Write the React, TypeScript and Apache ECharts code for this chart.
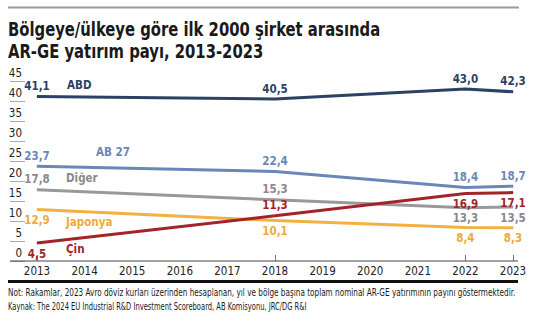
import React, { useEffect, useRef } from "react";
import * as echarts from "echarts";

const years = ["2013", "2014", "2015", "2016", "2017", "2018", "2019", "2020", "2021", "2022", "2023"];
const abd = [41.1, null, null, null, null, 40.5, null, null, null, 43.0, 42.3];
const ab27 = [23.7, null, null, null, null, 22.4, null, null, null, 18.4, 18.7];
const diger = [17.8, null, null, null, null, 15.3, null, null, null, 13.3, 13.5];
const japonya = [12.9, null, null, null, null, 10.1, null, null, null, 8.4, 8.3];
const cin = [4.5, null, null, null, null, 11.3, null, null, null, 16.9, 17.1];
const seriesNames = ["ABD", "AB 27", "Diğer", "Japonya", "Çin"];
const tickYears = ["2013", "2018", "2022", "2023"];
const yTicks = [0, 5, 10, 15, 20, 25, 30, 35, 40, 45];

const titleLines = ["Bölgeye/ülkeye göre ilk 2000 şirket arasında", "AR-GE yatırım payı, 2013-2023"];
const note = "Not: Rakamlar, 2023 Avro döviz kurları üzerinden hesaplanan, yıl ve bölge başına toplam nominal AR-GE yatırımının payını göstermektedir.";
const source = "Kaynak: The 2024 EU Industrial R&D Investment Scoreboard, AB Komisyonu, JRC/DG R&I";

const FONT = "'Liberation Sans Narrow', 'DejaVu Sans Condensed', 'Arial Narrow', sans-serif";

// styling
const colors = ["#2c4265", "#6b87b7", "#999999", "#f4b043", "#a32329"];
const labelColors = ["#2c4265", "#6b87b7", "#8a8a8a", "#f0a93a", "#a32329"];
const labelPlacement: string[][] = [
  ["top", "top", "top", "top"],
  ["top", "top", "top", "top"],
  ["top", "top", "bottom", "bottom"],
  ["bottom", "bottom", "bottom", "bottom"],
  ["bottom", "top", "bottom", "bottom"],
];
const namePos: [number, number][] = [
  [67, 85],
  [96, 152],
  [66, 178],
  [66, 222],
  [66, 249],
];

const fmt = (v: number) => v.toFixed(1).replace(".", ",");

export default function App() {
  const ref = useRef<HTMLDivElement>(null);
  useEffect(() => {
    if (!ref.current) return;
    const chart = echarts.init(ref.current, null, { renderer: "svg" });
    const all = [abd, ab27, diger, japonya, cin];
    const series = all.map((arr, si) => {
      let k = 0;
      const data = arr.map((v) => {
        if (v === null) return null;
        const pos = labelPlacement[si][k++];
        return { value: v, label: { position: pos } };
      });
      return {
        name: seriesNames[si],
        type: "line",
        data,
        connectNulls: true,
        symbol: "circle",
        symbolSize: 1,
        showSymbol: true,
        itemStyle: { color: colors[si] },
        lineStyle: { color: colors[si], width: 3 },
        label: {
          show: true,
          distance: 4,
          fontFamily: FONT,
          fontWeight: "bold",
          fontSize: 11.5,
          color: labelColors[si],
          formatter: (p: any) => fmt(p.value),
        },
        z: 2 + si,
      };
    });

    chart.setOption({
      animation: false,
      backgroundColor: "#ffffff",
      grid: { left: 37, right: 28, top: 81, bottom: 61 },
      xAxis: {
        type: "category",
        data: years,
        boundaryGap: false,
        axisLine: { show: false },
        axisTick: {
          show: true,
          inside: true,
          length: 6,
          interval: (_i: number, v: string) => tickYears.includes(v),
          lineStyle: { color: "#777", width: 1 },
        },
        axisLabel: {
          margin: 4,
          fontFamily: FONT,
          fontSize: 11.5,
          color: "#222",
          interval: 0,
        },
        splitLine: { show: false },
      },
      yAxis: {
        type: "value",
        min: yTicks[0],
        max: yTicks[yTicks.length - 1],
        interval: 5,
        offset: 12,
        axisLine: { show: false },
        axisTick: { show: true, length: 15, lineStyle: { color: "#aaa", width: 1 } },
        axisLabel: {
          margin: 3,
          fontFamily: FONT,
          fontSize: 11.5,
          color: "#222",
          verticalAlign: "bottom",
          padding: [0, 0, 2, 0],
        },
        splitLine: { show: false },
      },
      graphic: [
        { type: "line", shape: { x1: 8, y1: 7.5, x2: 519, y2: 7.5 }, style: { stroke: "#9a9a9a", lineWidth: 2 } },
        ...titleLines.map((t, i) => ({
          type: "text",
          x: 8,
          y: 29 + i * 22.5,
          scaleX: 0.867,
          style: {
            text: t,
            fontFamily: FONT,
            fontWeight: "bold",
            fontSize: 19,
            fill: "#1a1a1a",
            verticalAlign: "middle",
            align: "left",
          },
        })),
        { type: "line", shape: { x1: 10, y1: 261, x2: 518, y2: 261 }, style: { stroke: "#444", lineWidth: 1.2 }, z: 10 },
        { type: "line", shape: { x1: 8, y1: 281.5, x2: 518, y2: 281.5 }, style: { stroke: "#111", lineWidth: 3 } },
        {
          type: "text",
          x: 8,
          y: 293,
          scaleX: 0.812,
          style: { text: note, fontFamily: FONT, fontSize: 10, fill: "#1a1a1a", verticalAlign: "middle", align: "left" },
        },
        {
          type: "text",
          x: 8,
          y: 307,
          scaleX: 0.75,
          style: { text: source, fontFamily: FONT, fontSize: 10, fill: "#1a1a1a", verticalAlign: "middle", align: "left" },
        },
        ...seriesNames.map((n, i) => ({
          type: "text",
          x: namePos[i][0],
          y: namePos[i][1],
          style: {
            text: n,
            fontFamily: FONT,
            fontWeight: "bold",
            fontSize: 11.5,
            fill: labelColors[i],
            verticalAlign: "middle",
            align: "left",
          },
          z: 10,
        })),
      ],
      series,
    });
    return () => chart.dispose();
  }, []);
  return <div ref={ref} style={{ position: "fixed", left: 0, top: 0, width: 541, height: 322 }} />;
}
